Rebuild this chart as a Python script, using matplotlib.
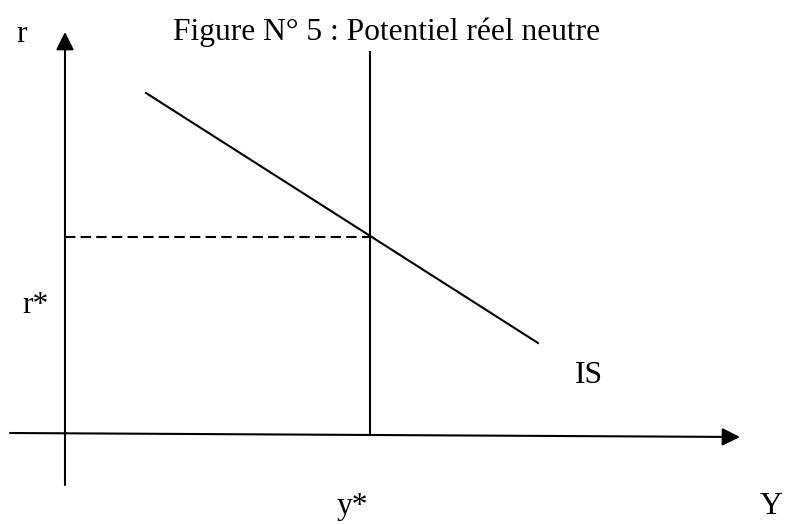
import matplotlib.pyplot as plt

plt.rcParams['font.family'] = ['Liberation Serif', 'DejaVu Serif']

# diagram coordinates (pixel-like units, y grows downward)
y_axis_x = 65
y_axis_span = [485, 32]          # bottom, arrow tip
x_axis_start = [10, 433]
x_axis_tip = [740, 437]

y_star = 370                      # vertical potential line
y_star_span = [52, 433]

is_x = [146, 538]
is_y = [93, 343]

r_level = 237                     # dashed level where IS meets y*

title = "Figure N° 5 : Potentiel réel neutre"

fig = plt.figure(figsize=(7.9, 5.24), dpi=100)
ax = fig.add_axes([0, 0, 1, 1])
ax.set_xlim(0, 790)
ax.set_ylim(524, 0)
ax.axis('off')

lw = 1.5
arrow = dict(arrowstyle='-|>', color='black', lw=lw, mutation_scale=27,
             shrinkA=0, shrinkB=0)

# axes with arrow heads
ax.annotate('', xy=(y_axis_x, y_axis_span[1]), xytext=(y_axis_x, y_axis_span[0]),
            arrowprops=arrow)
ax.annotate('', xy=tuple(x_axis_tip), xytext=tuple(x_axis_start),
            arrowprops=arrow)

# vertical line at y*
ax.plot([y_star, y_star], y_star_span, color='black', lw=lw)

# IS curve
ax.plot(is_x, is_y, color='black', lw=lw)

# dashed projection to the r axis
ax.plot([y_axis_x, y_star], [r_level, r_level], color='black', lw=lw,
        dashes=(5, 2.5))

fs = 22.7
ax.text(173, 40, title, fontsize=fs, ha='left', va='baseline')
ax.text(16, 42, 'r', fontsize=fs, ha='left', va='baseline')
ax.text(22, 313, 'r*', fontsize=fs, ha='left', va='baseline')
ax.text(575, 383, 'IS', fontsize=fs, ha='left', va='baseline')
ax.text(337, 514, 'y*', fontsize=fs, ha='left', va='baseline')
ax.text(760, 514, 'Y', fontsize=fs, ha='left', va='baseline')

fig.savefig('out.png', dpi=100)
